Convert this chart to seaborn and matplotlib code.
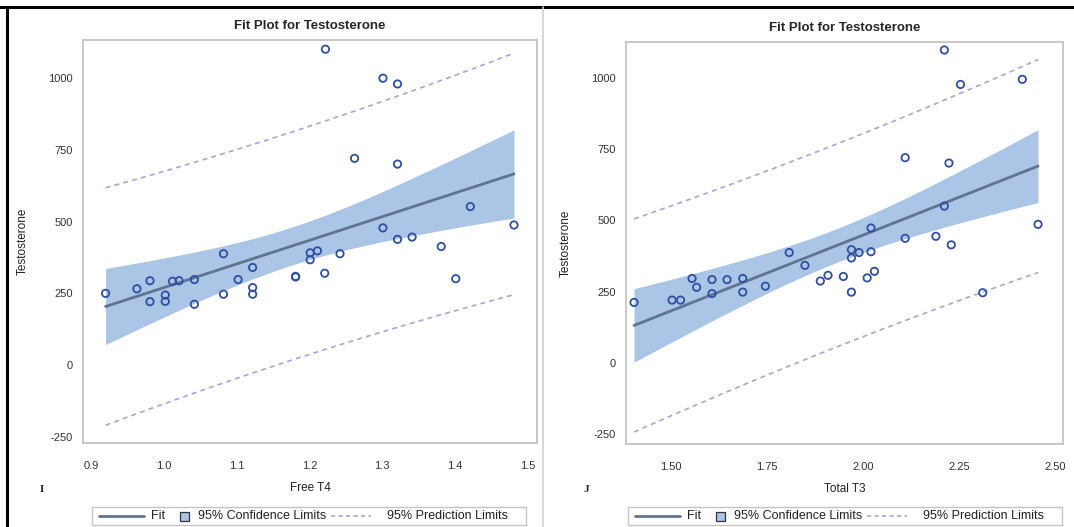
import numpy as np
import pandas as pd
from matplotlib import pyplot as plt
from matplotlib.lines import Line2D
from matplotlib.patches import Rectangle
import seaborn as sns

# Free T4 vs Testosterone (panel I)
free_t4 = [0.92, 0.963, 0.981, 0.981, 1.002, 1.002, 1.012, 1.021, 1.042, 1.042,
           1.082, 1.082, 1.102, 1.122, 1.122, 1.122, 1.181, 1.181, 1.201, 1.201,
           1.211, 1.221, 1.222, 1.242, 1.262, 1.301, 1.301, 1.321, 1.321, 1.321,
           1.341, 1.381, 1.401, 1.421, 1.481]
testo_i = [250, 266, 294, 221, 244, 222, 292, 294, 298, 212,
           388, 247, 298, 340, 270, 247, 307, 309, 391, 367,
           398, 320, 1100, 388, 720, 999, 478, 979, 700, 438,
           446, 413, 301, 552, 488]

# Total T3 vs Testosterone (panel J)
total_t3 = [1.404, 1.503, 1.525, 1.555, 1.567, 1.607, 1.607, 1.646, 1.687, 1.687,
            1.746, 1.808, 1.849, 1.889, 1.909, 1.949, 1.970, 1.970, 1.970, 1.990,
            2.011, 2.021, 2.021, 2.030, 2.110, 2.110, 2.190, 2.212, 2.212, 2.224,
            2.230, 2.254, 2.312, 2.415, 2.456]
testo_j = [212, 220, 220, 296, 265, 292, 243, 292, 296, 248,
           269, 387, 342, 287, 307, 303, 248, 368, 397, 387,
           298, 390, 473, 321, 437, 720, 444, 550, 1098, 701,
           414, 977, 246, 995, 486]

legend_labels = ['Fit', '95% Confidence Limits', '95% Prediction Limits']

T_CRIT = 2.0345  # t(0.975, df=33)

FIT_COL = "#617391"
CLM_COL = "#aac5e6"
PRED_COL = "#a6a6da"
PT_COL = "#2f4fa3"
FRAME_COL = "#c4c4c4"
W, H = 1074, 527


def fit_limits(x, y):
    x = np.asarray(x, float)
    y = np.asarray(y, float)
    n = len(x)
    b1, b0 = np.polyfit(x, y, 1)
    resid = y - (b0 + b1 * x)
    s = np.sqrt(np.sum(resid ** 2) / (n - 2))
    xg = np.linspace(x.min(), x.max(), 100)
    sxx = np.sum((x - x.mean()) ** 2)
    h = 1.0 / n + (xg - x.mean()) ** 2 / sxx
    yh = b0 + b1 * xg
    se_m = s * np.sqrt(h)
    se_p = s * np.sqrt(1 + h)
    return pd.DataFrame({'x': xg, 'fit': yh,
                         'clm_lo': yh - T_CRIT * se_m, 'clm_hi': yh + T_CRIT * se_m,
                         'pred_lo': yh - T_CRIT * se_p, 'pred_hi': yh + T_CRIT * se_p})


def fit_panel(ax, x, y, xlabel, xlim, xticks, xticklabels, ylim):
    band = fit_limits(x, y)
    ax.fill_between(band.x, band.clm_lo, band.clm_hi, color=CLM_COL, lw=0, zorder=1)
    sns.lineplot(data=band, x='x', y='fit', ax=ax, color=FIT_COL, lw=2, zorder=3)
    sns.lineplot(data=band, x='x', y='pred_lo', ax=ax, color=PRED_COL, lw=1.2,
                 dashes=(3, 2.5), zorder=2)
    sns.lineplot(data=band, x='x', y='pred_hi', ax=ax, color=PRED_COL, lw=1.2,
                 dashes=(3, 2.5), zorder=2)
    pts = pd.DataFrame({'x': x, 'y': y})
    sns.scatterplot(data=pts, x='x', y='y', ax=ax, marker='o', s=28,
                    facecolor='none', edgecolor=PT_COL, linewidth=1.3, zorder=4)
    ax.set_xlim(*xlim)
    ax.set_ylim(*ylim)
    ax.set_xticks(xticks)
    ax.set_xticklabels(xticklabels)
    ax.set_yticks([-250, 0, 250, 500, 750, 1000])
    ax.set_yticklabels(['-250', '0', '250', '500', '750', '1000'])
    ax.set_xlabel(xlabel, fontsize=8.5, color='#222222', labelpad=8)
    ax.set_ylabel('Testosterone', fontsize=8.5, color='#222222', labelpad=14)
    ax.set_title('Fit Plot for Testosterone', fontsize=9.5, fontweight='bold', pad=8)
    ax.tick_params(labelsize=8, colors='#555555', labelcolor='#333333', length=4,
                   width=0.8, direction='out')
    ax.tick_params(axis='x', pad=9)
    for sp in ax.spines.values():
        sp.set_color(FRAME_COL)
        sp.set_linewidth(1.3)


def sas_legend(fig, x0):
    # SAS-style legend bar: handles have different widths, so lay it out by hand
    tr = fig.transFigure
    yc = 1 - 516 / H
    fig.add_artist(Rectangle((x0 / W, 1 - 525 / H), 434 / W, 18 / H, transform=tr,
                             facecolor='white', edgecolor=FRAME_COL, lw=1))
    fig.add_artist(Line2D([(x0 + 7) / W, (x0 + 52) / W], [yc, yc], transform=tr,
                          color=FIT_COL, lw=2))
    fig.text((x0 + 59) / W, yc, legend_labels[0], fontsize=9, color='#222222',
             va='center')
    fig.add_artist(Rectangle(((x0 + 88) / W, yc - 4.5 / H), 9 / W, 9 / H,
                             transform=tr, facecolor=CLM_COL, edgecolor='#333333',
                             lw=0.9))
    fig.text((x0 + 106) / W, yc, legend_labels[1], fontsize=9, color='#222222',
             va='center')
    fig.add_artist(Line2D([(x0 + 239) / W, (x0 + 279) / W], [yc, yc], transform=tr,
                          color=PRED_COL, lw=1.2, ls=(0, (2.5, 2))))
    fig.text((x0 + 295) / W, yc, legend_labels[2], fontsize=9, color='#222222',
             va='center')


sns.set_style("white")
plt.rcParams['font.family'] = ['Liberation Sans', 'DejaVu Sans']

fig = plt.figure(figsize=(W / 100, H / 100), dpi=100)

ax1 = fig.add_axes([83 / W, 84 / H, 454 / W, 403 / H])
fit_panel(ax1, free_t4, testo_i, 'Free T4', (0.889, 1.5126),
          [0.9, 1.0, 1.1, 1.2, 1.3, 1.4, 1.5],
          ['0.9', '1.0', '1.1', '1.2', '1.3', '1.4', '1.5'], (-271, 1132))

ax2 = fig.add_axes([626 / W, 83 / H, 437 / W, 402 / H])
fit_panel(ax2, total_t3, testo_j, 'Total T3', (1.383, 2.521),
          [1.50, 1.75, 2.00, 2.25, 2.50],
          ['1.50', '1.75', '2.00', '2.25', '2.50'], (-285, 1126))

sas_legend(fig, 92)
sas_legend(fig, 628)

# panel letters
fig.text(40 / W, 1 - 490 / H, 'I', fontsize=8, fontweight='bold',
         family='Liberation Serif', va='center')
fig.text(584 / W, 1 - 490 / H, 'J', fontsize=8, fontweight='bold',
         family='Liberation Serif', va='center')

# page borders
fig.add_artist(Line2D([0, 1], [1 - 7 / H, 1 - 7 / H], color='black', lw=2.2))
fig.add_artist(Line2D([7 / W, 7 / W], [0, 1 - 7 / H], color='black', lw=2.2))
fig.add_artist(Line2D([543 / W, 543 / W], [0, 1 - 7 / H], color='#cfcfcf', lw=1.2))

fig.savefig('out.png', dpi=100)
